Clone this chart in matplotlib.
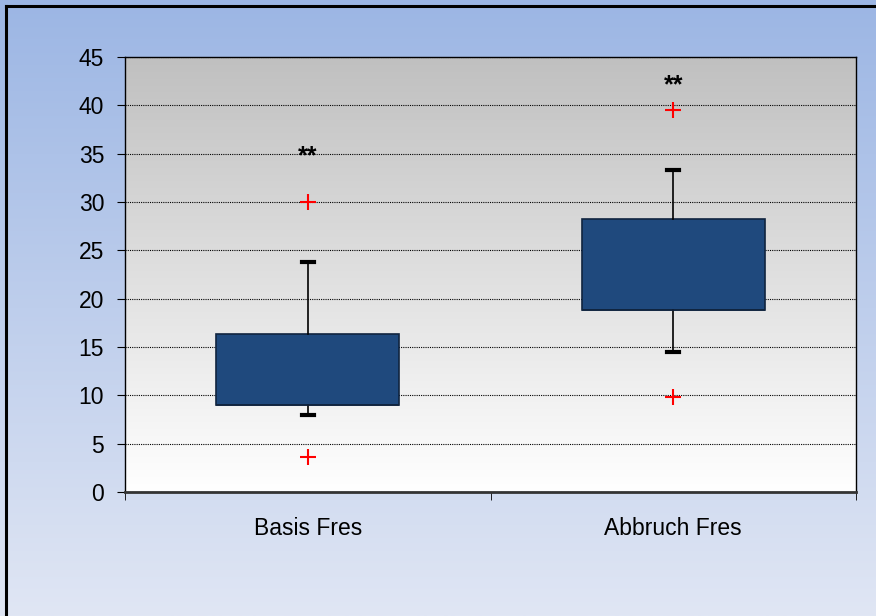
import numpy as np
import matplotlib
matplotlib.use('agg')
import matplotlib.pyplot as plt
from matplotlib.lines import Line2D

plt.rcParams['font.family'] = ['Liberation Sans', 'DejaVu Sans']

# box plot summary for the two conditions
labels = ['Basis Fres', 'Abbruch Fres']
q1 = [9.0, 18.8]
med = [9.0, 18.8]
q3 = [16.3, 28.2]
whislo = [8.0, 14.5]
whishi = [23.8, 33.3]
outliers = [[30.0, 3.6], [39.5, 9.8]]
signif = ['**', '**']
signif_y = [34.0, 41.3]

fig = plt.figure(figsize=(8.76, 6.16), dpi=100)

# figure background: blue to pale blue gradient
bg = fig.add_axes([0, 0, 1, 1], zorder=-10)
top_c = np.array([0x9c, 0xb6, 0xe4]) / 255.
bot_c = np.array([0xe0, 0xe6, 0xf4]) / 255.
t = np.linspace(0, 1, 256)[:, None]
grad = top_c[None, :] * (1 - t) + bot_c[None, :] * t
bg.imshow(grad[:, None, :], aspect='auto', extent=[0, 1, 0, 1])
bg.set_xlim(0, 1)
bg.set_ylim(0, 1)
bg.axis('off')

# outer frame (only top and left edge inside the image)
fig.add_artist(Line2D([6/876, 6/876], [0, 1 - 6/616], color='black', lw=2.2, transform=fig.transFigure))
fig.add_artist(Line2D([6/876, 1], [1 - 6/616, 1 - 6/616], color='black', lw=2.2, transform=fig.transFigure))

ax = fig.add_axes([125/876, 124/616, 731/876, 435/616])

# plot area: grey to white gradient
g_top = np.array([0xc0, 0xc0, 0xc0]) / 255.
g_bot = np.array([1.0, 1.0, 1.0])
pg = g_top[None, :] * (1 - t) + g_bot[None, :] * t
ax.imshow(pg[:, None, :], aspect='auto', extent=[0, 1, 0, 1], transform=ax.transAxes, zorder=0)

stats = []
for i in range(len(labels)):
    stats.append(dict(label=labels[i], q1=q1[i], med=med[i], q3=q3[i],
                      whislo=whislo[i], whishi=whishi[i], fliers=outliers[i]))

pos = np.arange(1, len(labels) + 1)
ax.bxp(stats, positions=pos, widths=0.5, capwidths=0.033, patch_artist=True,
       boxprops=dict(facecolor='#1f497d', edgecolor='#10243f', lw=1.2),
       medianprops=dict(color='#10243f', lw=1.2),
       whiskerprops=dict(color='black', lw=1.2),
       capprops=dict(color='black', lw=3.0),
       flierprops=dict(marker='+', markeredgecolor='red', markersize=12, markeredgewidth=1.5),
       zorder=3)

for i in range(len(labels)):
    ax.text(pos[i], signif_y[i], signif[i], ha='center', va='baseline',
            fontsize=18, fontweight='bold', zorder=4)

ax.set_xlim(0.5, len(labels) + 0.5)
ax.set_ylim(0, 45)
ax.set_yticks(np.arange(0, 46, 5))
ax.yaxis.grid(True, color='black', linestyle=(0, (1, 1)), lw=0.8)
ax.set_axisbelow(True)

ax.set_xticks(pos)
ax.set_xticklabels(labels)
ax.set_xticks(np.arange(0.5, len(labels) + 1, 1), minor=True)
ax.tick_params(axis='x', which='major', length=0, pad=18, labelsize=16.5)
ax.tick_params(axis='x', which='minor', length=6, direction='out', color='black')
ax.tick_params(axis='y', length=6, direction='out', labelsize=16.5, pad=9)

for s in ['top', 'right', 'left']:
    ax.spines[s].set_color('black')
    ax.spines[s].set_linewidth(1.0)
ax.spines['bottom'].set_color('#333333')
ax.spines['bottom'].set_linewidth(2.0)

fig.savefig('out.png', dpi=100)
